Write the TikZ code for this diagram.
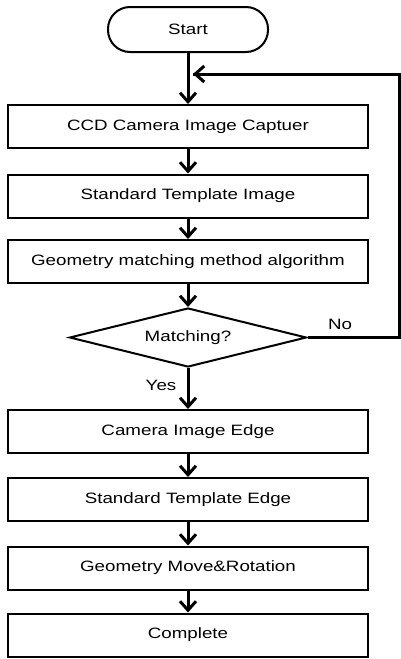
\documentclass[tikz,border=0pt]{standalone}
\usepackage{fontspec}
\setmainfont{Liberation Sans}[FakeStretch=1.25]
\usetikzlibrary{arrows.meta,shapes.geometric}
\begin{document}
\begin{tikzpicture}[x=1pt,y=-1pt,
  box/.style={draw,line width=2pt,minimum width=360pt,minimum height=43pt,inner sep=0pt,font=\fontsize{15}{17}\selectfont},
  term/.style={draw,line width=2pt,minimum width=160pt,minimum height=45pt,rounded corners=22pt,inner sep=0pt,font=\fontsize{15}{17}\selectfont},
  dec/.style={draw,line width=2pt,diamond,aspect=4,minimum width=237pt,minimum height=59pt,inner sep=0pt,font=\fontsize{15}{17}\selectfont},
  arr/.style={line width=3pt,-{Straight Barb[length=9pt,width=16pt,line width=3pt]}},
  lbl/.style={font=\fontsize{15}{17}\selectfont}]
\useasboundingbox (0,0) rectangle (401,659);
\node[term] (start) at (188,29.5) {Start};
\node[box] (b1) at (188,126.5) {CCD Camera Image Captuer};
\node[box] (b2) at (188,196) {Standard Template Image};
\node[box] (b3) at (188,261.5) {Geometry matching method algorithm};
\node[dec] (d) at (188,337.5) {Matching?};
\node[box] (b4) at (188,431.5) {Camera Image Edge};
\node[box] (b5) at (188,499.5) {Standard Template Edge};
\node[box] (b6) at (188,568) {Geometry Move\&Rotation};
\node[box] (b7) at (188,635) {Complete};
\coordinate (loopin) at (193,74);
\coordinate (rt) at (399,337.5);
\coordinate (rb) at (399,74);
\draw[arr] (start.south) -- (b1.north);
\draw[arr] (b1) -- (b2);
\draw[arr] (b2) -- (b3);
\draw[arr] (b3) -- (d);
\draw[arr] (d) -- (b4);
\draw[arr] (b4) -- (b5);
\draw[arr] (b5) -- (b6);
\draw[arr] (b6) -- (b7);
\draw[line width=3pt,line join=miter] (d.east) -- (rt) -- (rb) -- (loopin);
\draw[arr] (rb) -- (loopin);
\node[lbl] (no) at (340,324) {No};
\node[lbl] (yes) at (161,385) {Yes};
\end{tikzpicture}
\end{document}
